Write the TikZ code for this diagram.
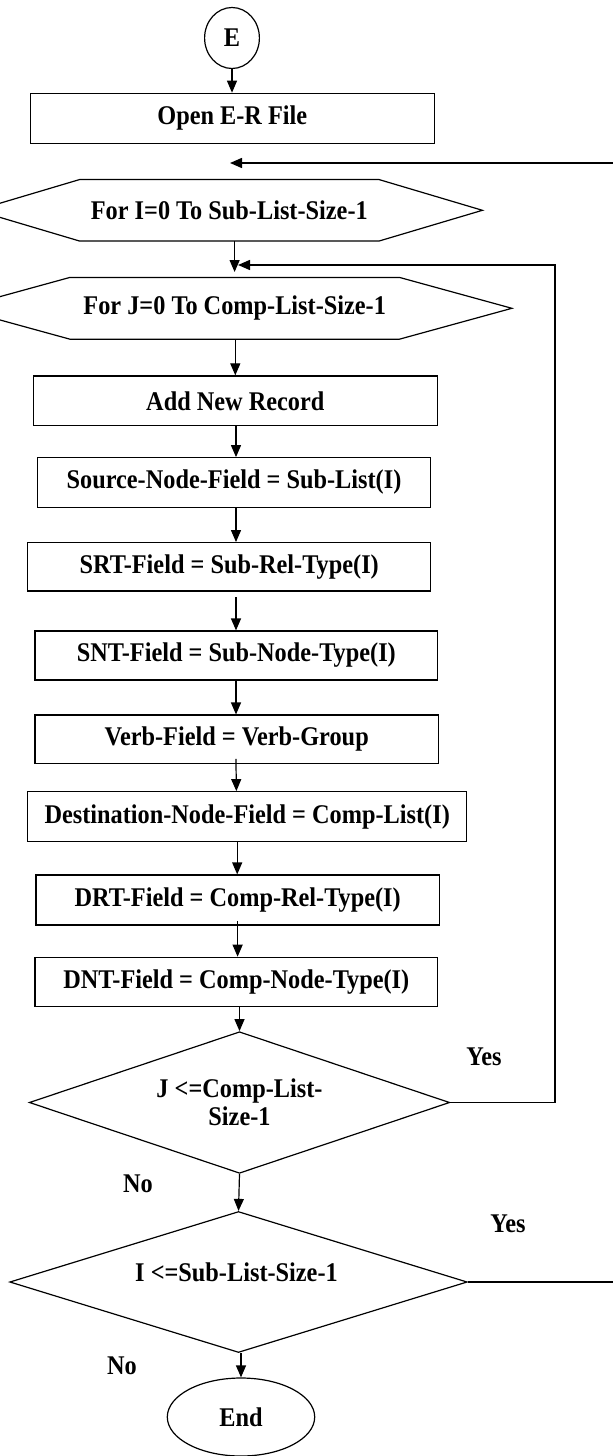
\documentclass[tikz,border=0pt]{standalone}
\usepackage{fontspec}
\setmainfont{Liberation Serif}[FakeStretch=0.9]
\usetikzlibrary{arrows.meta,shapes.geometric,calc}
\begin{document}
\begin{tikzpicture}[x=0.5pt,y=-0.5pt,
  every node/.style={font=\fontsize{13.5pt}{14pt}\selectfont\bfseries},
  box/.style={draw,line width=0.6pt,inner sep=0pt},
  hexbox/.style={inner sep=0pt},
  hexline/.style={line width=0.6pt},
  dec/.style={diamond,draw,line width=0.6pt,inner sep=0pt,aspect=3,align=center},
  term/.style={ellipse,draw,line width=0.6pt,inner sep=0pt},
  arr/.style={-{Triangle[length=6pt,width=5pt]},line width=0.6pt},
  loop/.style={arr,line width=0.75pt}]
\useasboundingbox (0,0) rectangle (613,1456);
\clip (0,0) rectangle (613,1456);

% start terminal and file box
\node[term,minimum width=27.4pt,minimum height=30.5pt] (e) at (232,38) {E};
\node[box,minimum width=201.8pt,minimum height=24.9pt] (open) at (232.3,118.2) {Open E-R File};

% outer loop header
\node[hexbox,minimum width=149.3pt,minimum height=30.35pt] (h1) at (229.3,210.3) {For I=0 To Sub-List-Size-1};
\draw[hexline] (h1.north west) -- (h1.north east) -- ([xshift=51.7pt]h1.east)
  -- (h1.south east) -- (h1.south west) -- ([xshift=-51.7pt]h1.west) -- cycle;

% inner loop header
\node[hexbox,minimum width=164.3pt,minimum height=30.5pt] (h2) at (234.7,308.3) {For J=0 To Comp-List-Size-1};
\draw[hexline] (h2.north west) -- (h2.north east) -- ([xshift=56.25pt]h2.east)
  -- (h2.south east) -- (h2.south west) -- ([xshift=-56.25pt]h2.west) -- cycle;

% record fields
\node[box,minimum width=202pt,minimum height=24.85pt] (add) at (235.3,400.8) {Add New Record};
\node[box,minimum width=196.7pt,minimum height=24.8pt] (src) at (234,482.5) {Source-Node-Field = Sub-List(I)};
\node[box,minimum width=201.5pt,minimum height=24.15pt] (srt) at (229.2,566.8) {SRT-Field = Sub-Rel-Type(I)};
\node[box,minimum width=201.35pt,minimum height=24.5pt] (snt) at (236.3,655.5) {SNT-Field = Sub-Node-Type(I)};
\node[box,minimum width=201.65pt,minimum height=24.15pt] (verb) at (236.7,739.2) {Verb-Field = Verb-Group};
\node[box,minimum width=219.5pt,minimum height=25pt] (dest) at (247.2,816.7) {Destination-Node-Field = Comp-List(I)};
\node[box,minimum width=201.65pt,minimum height=25pt] (drt) at (237.7,900) {DRT-Field = Comp-Rel-Type(I)};
\node[box,minimum width=201.35pt,minimum height=24.7pt] (dnt) at (236.3,982) {DNT-Field = Comp-Node-Type(I)};

% loop tests
\node[dec,minimum width=210.2pt,minimum height=70.8pt] (d1) at (239.5,1102.5) {J <=Comp-List-\\Size-1};
\node[dec,minimum width=228.75pt,minimum height=70.5pt] (d2) at (238.5,1282) {};
\node (d2t) at (236.5,1272) {I <=Sub-List-Size-1};

% end terminal
\node[term,minimum width=73.7pt,minimum height=39pt] (end) at (241,1417) {End};

% branch labels
\node (yes1) at (484,1057) {Yes};
\node (no1) at (138,1184) {No};
\node (yes2) at (508,1224) {Yes};
\node (no2) at (122,1366) {No};

% helper points for the connectors
\coordinate (ax) at (236,0);
\coordinate (topin) at (230,163);
\coordinate (rside) at (660,0);
\coordinate (jin) at (234.6,272);
\coordinate (jloop) at (555,265);
\coordinate (jtip) at (238,265);

% main flow
\draw[arr] (e.south) -- (e.south |- open.north);
\draw[arr] (h1.south -| jin) -- (jin);
\draw[arr] (h2.south -| add.north) -- (add.north);
\draw[arr] (add.south -| ax) -- (src.north -| ax);
\draw[arr] (src.south -| ax) -- (srt.north -| ax);
\draw[arr,shorten <=2.8pt] (srt.south -| ax) -- (snt.north -| ax);
\draw[arr] (snt.south -| ax) -- (verb.north -| ax);
\draw[arr,shorten <=-2.5pt] (verb.south -| ax) -- ([xshift=0.2pt]dest.north -| ax);
\draw[arr] ([xshift=0.6pt]dest.south -| ax) -- ([xshift=0.6pt]drt.north -| ax);
\draw[arr,shorten <=-2.1pt] ([xshift=0.8pt]drt.south -| ax) -- ([xshift=0.8pt]dnt.north -| ax);
\draw[arr] (dnt.south -| d1.north) -- (d1.north);
\draw[arr] (d1.south) -- (d2.north);
\draw[arr] (d2.south -| end.north) -- (end.north);

% loop-back connectors
\draw[loop] (d1.east) -| (jloop) -- (jtip);
\draw[loop] (d2.east) -| (rside |- topin) -- (topin);
\end{tikzpicture}
\end{document}
